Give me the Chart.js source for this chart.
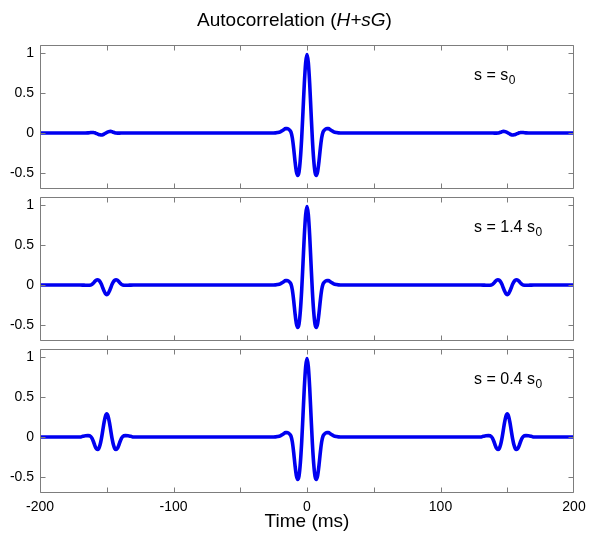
<!DOCTYPE html>
<html>
<head>
<meta charset="utf-8">
<title>Autocorrelation (H+sG)</title>
<script src="https://cdn.jsdelivr.net/npm/chart.js@4/dist/chart.umd.min.js"></script>
<style>
  body { margin: 0; background: #fff; }
  #fig { position: relative; width: 589px; height: 533px; }
  #fig canvas { position: absolute; left: 0; }
</style>
</head>
<body>
<div id="fig">
  <canvas id="p1" width="589" height="193" style="top:0"></canvas>
  <canvas id="p2" width="589" height="152" style="top:193px"></canvas>
  <canvas id="p3" width="589" height="188" style="top:345px"></canvas>
</div>
<script>
// time axis shared by the three panels (ms)
const timeMs = [
  -200,
  -170, -168, -166, -164, -162, -161, -160, -159, -158, -157, -156, -155, -154, -153, -152, -151,
  -150, -149, -148, -147, -146, -145, -144, -143, -142, -141, -140, -139, -138, -136, -134, -132, -130,
  -30, -25, -22, -20, -18, -16, -15, -14, -13, -12, -11, -10, -9, -8, -7, -6, -5, -4, -3, -2, -1,
  0, 1, 2, 3, 4, 5, 6, 7, 8, 9, 10, 11, 12, 13, 14, 15, 16, 18, 20, 22, 25, 30,
  130, 132, 134, 136, 138, 139, 140, 141, 142, 143, 144, 145, 146, 147, 148, 149,
  150, 151, 152, 153, 154, 155, 156, 157, 158, 159, 160, 161, 162, 164, 166, 168, 170,
  200
];

// s = s0
const acfS0 = [
  0,
  0, 0, 0, 0.002, 0.006, 0.007, 0.006, 0.002, -0.004, -0.011, -0.018, -0.023, -0.025, -0.022, -0.014, -0.004,
  0.006, 0.014, 0.019, 0.02, 0.016, 0.009, 0.003, -0.001, -0.002, -0.002, -0.001, 0, 0, 0, 0, 0, 0,
  0, 0, 0.006, 0.015, 0.035, 0.055, 0.055, 0.05, 0.035, 0.01, -0.06, -0.19, -0.35, -0.48, -0.53, -0.49, -0.33, -0.07, 0.27, 0.62, 0.88,
  0.98, 0.88, 0.62, 0.27, -0.07, -0.33, -0.49, -0.53, -0.48, -0.35, -0.19, -0.06, 0.01, 0.035, 0.05, 0.055, 0.055, 0.035, 0.015, 0.006, 0, 0,
  0, 0, 0, 0, 0, 0, -0.001, -0.002, -0.002, -0.001, 0.003, 0.009, 0.016, 0.02, 0.019, 0.014,
  0.006, -0.004, -0.014, -0.022, -0.025, -0.023, -0.018, -0.011, -0.004, 0.002, 0.006, 0.007, 0.006, 0.002, 0, 0, 0,
  0
];

// s = 1.4 s0
const acfS14 = [
  0,
  0, -0.001, -0.003, -0.004, 0, 0.008, 0.024, 0.043, 0.059, 0.065, 0.06, 0.04, 0.008, -0.034, -0.076, -0.108,
  -0.12, -0.108, -0.076, -0.034, 0.008, 0.04, 0.06, 0.065, 0.059, 0.043, 0.024, 0.008, 0, -0.004, -0.003, -0.001, 0,
  0, 0, 0.006, 0.015, 0.035, 0.055, 0.055, 0.05, 0.035, 0.01, -0.06, -0.19, -0.35, -0.48, -0.53, -0.49, -0.33, -0.07, 0.27, 0.62, 0.88,
  0.98, 0.88, 0.62, 0.27, -0.07, -0.33, -0.49, -0.53, -0.48, -0.35, -0.19, -0.06, 0.01, 0.035, 0.05, 0.055, 0.055, 0.035, 0.015, 0.006, 0, 0,
  0, -0.001, -0.003, -0.004, 0, 0.008, 0.024, 0.043, 0.059, 0.065, 0.06, 0.04, 0.008, -0.034, -0.076, -0.108,
  -0.12, -0.108, -0.076, -0.034, 0.008, 0.04, 0.06, 0.065, 0.059, 0.043, 0.024, 0.008, 0, -0.004, -0.003, -0.001, 0,
  0
];

// s = 0.4 s0
const acfS04 = [
  0,
  0, 0.009, 0.016, 0.017, 0.006, -0.018, -0.056, -0.104, -0.142, -0.157, -0.145, -0.098, -0.021, 0.08, 0.183, 0.26,
  0.29, 0.26, 0.183, 0.08, -0.021, -0.098, -0.145, -0.157, -0.142, -0.104, -0.056, -0.018, 0.006, 0.017, 0.016, 0.009, 0,
  0, 0, 0.006, 0.015, 0.035, 0.055, 0.055, 0.05, 0.035, 0.01, -0.06, -0.19, -0.35, -0.48, -0.53, -0.49, -0.33, -0.07, 0.27, 0.62, 0.88,
  0.98, 0.88, 0.62, 0.27, -0.07, -0.33, -0.49, -0.53, -0.48, -0.35, -0.19, -0.06, 0.01, 0.035, 0.05, 0.055, 0.055, 0.035, 0.015, 0.006, 0, 0,
  0, 0.009, 0.016, 0.017, 0.006, -0.018, -0.056, -0.104, -0.142, -0.157, -0.145, -0.098, -0.021, 0.08, 0.183, 0.26,
  0.29, 0.26, 0.183, 0.08, -0.021, -0.098, -0.145, -0.157, -0.142, -0.104, -0.056, -0.018, 0.006, 0.017, 0.016, 0.009, 0,
  0
];

const panelLabels = ['s = s', 's = 1.4 s', 's = 0.4 s'];
const labelSub = '0';
const xTicks = [-200, -150, -100, -50, 0, 50, 100, 150, 200];
const xLabelled = [-200, -100, 0, 100, 200];
const yTicks = [-0.5, 0, 0.5, 1];

const FONT = 'Arial, "Liberation Sans", sans-serif';
const BOX = '#7d7d7d';

// box round each axes with inward tick marks on all four sides
const axesBox = {
  id: 'axesBox',
  afterDraw(chart) {
    const { ctx, chartArea: a, scales } = chart;
    const L = Math.round(a.left) + 0.5, R = Math.round(a.right) - 0.5;
    const T = Math.round(a.top) + 0.5, B = Math.round(a.bottom) - 0.5;
    const len = 5;
    ctx.save();
    ctx.strokeStyle = BOX;
    ctx.lineWidth = 1;
    ctx.beginPath();
    ctx.rect(L, T, R - L, B - T);
    scales.x.ticks.forEach(t => {
      const x = Math.min(R, Math.round(scales.x.getPixelForValue(t.value)) + 0.5);
      ctx.moveTo(x, B); ctx.lineTo(x, B - len);
      ctx.moveTo(x, T); ctx.lineTo(x, T + len);
    });
    scales.y.ticks.forEach(t => {
      const y = Math.round(scales.y.getPixelForValue(t.value)) + 0.5;
      ctx.moveTo(L, y); ctx.lineTo(L + len, y);
      ctx.moveTo(R, y); ctx.lineTo(R - len, y);
    });
    ctx.stroke();
    ctx.restore();
  }
};

// "s = ... s0" note in the upper right of a panel; the first panel also carries the figure title
const panelText = {
  id: 'panelText',
  afterDraw(chart, args, opts) {
    const { ctx, chartArea: a } = chart;
    ctx.save();
    ctx.fillStyle = '#000';
    ctx.textBaseline = 'alphabetic';
    ctx.textAlign = 'left';
    ctx.font = '16px ' + FONT;
    const x0 = a.right - 100, y0 = a.top + 35;
    ctx.fillText(opts.text, x0, y0);
    const w = ctx.measureText(opts.text).width;
    ctx.font = '12px ' + FONT;
    ctx.fillText(labelSub, x0 + w + 0.5, y0 + 4);

    if (opts.title) {
      const parts = [
        ['Autocorrelation (', '19px ' + FONT],
        ['H+sG', 'italic 19px ' + FONT],
        [')', '19px ' + FONT]
      ];
      let total = 0;
      parts.forEach(p => { ctx.font = p[1]; total += ctx.measureText(p[0]).width; });
      let x = chart.width / 2 - total / 2;
      parts.forEach(p => {
        ctx.font = p[1];
        ctx.fillText(p[0], x, 26);
        x += ctx.measureText(p[0]).width;
      });
    }
    ctx.restore();
  }
};

const pads = [
  { top: 45, bottom: 4 },
  { top: 4, bottom: 4 },
  { top: 4, bottom: 0 }
];

function makePanel(id, values, idx) {
  const last = idx === 2;
  return new Chart(document.getElementById(id), {
    type: 'line',
    data: {
      datasets: [{
        data: timeMs.map((t, i) => ({ x: t, y: values[i] })),
        borderColor: '#0000f0',
        borderWidth: 3.6,
        pointRadius: 0,
        cubicInterpolationMode: 'monotone',
        fill: false
      }]
    },
    options: {
      responsive: false,
      animation: false,
      events: [],
      layout: { padding: { left: 0, right: 15, top: pads[idx].top, bottom: pads[idx].bottom } },
      plugins: {
        legend: { display: false },
        tooltip: { enabled: false },
        panelText: { text: panelLabels[idx], title: idx === 0 }
      },
      scales: {
        x: {
          type: 'linear',
          min: -200,
          max: 200,
          grid: { display: false, drawTicks: false },
          border: { display: false },
          afterBuildTicks: s => { s.ticks = xTicks.map(v => ({ value: v })); },
          afterFit: s => {
            s.height = last ? 40 : 0;
            s.paddingLeft = 0;
            s.paddingRight = 0;
          },
          ticks: {
            display: last,
            autoSkip: false,
            maxRotation: 0,
            padding: 6,
            color: '#000',
            font: { family: FONT, size: 14 },
            callback: v => xLabelled.includes(v) ? String(v) : ''
          },
          title: {
            display: last,
            text: 'Time (ms)',
            color: '#000',
            font: { family: FONT, size: 19 },
            padding: { top: 0, bottom: 0 }
          }
        },
        y: {
          min: -0.7,
          max: 1.1,
          grid: { display: false, drawTicks: false },
          border: { display: false },
          afterBuildTicks: s => { s.ticks = yTicks.map(v => ({ value: v })); },
          afterFit: s => {
            s.width = 40;
            s.paddingTop = 0;
            s.paddingBottom = 0;
          },
          ticks: {
            padding: 6,
            color: '#000',
            font: { family: FONT, size: 14 },
            callback: v => String(v)
          }
        }
      }
    },
    plugins: [axesBox, panelText]
  });
}

makePanel('p1', acfS0, 0);
makePanel('p2', acfS14, 1);
makePanel('p3', acfS04, 2);
</script>
</body>
</html>
